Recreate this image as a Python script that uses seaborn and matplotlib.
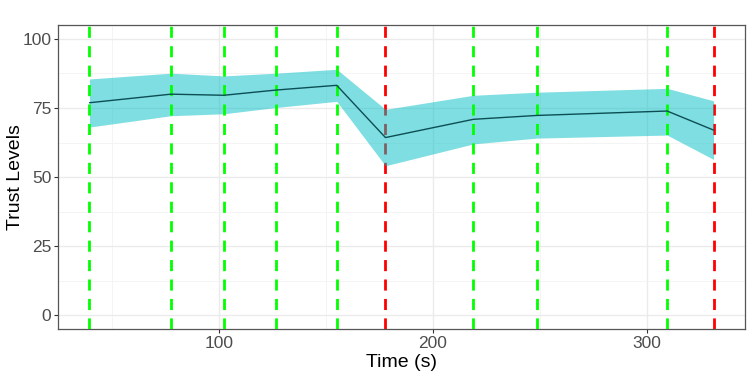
import matplotlib
matplotlib.use('Agg')
import matplotlib.pyplot as plt
from matplotlib.ticker import MultipleLocator
import pandas as pd
import seaborn as sns

# Dados
tempo = [39.5, 77.6, 102.3, 126.9, 155.1, 177.9, 219.0, 248.6, 309.6, 331.3]
media = [76.9, 80.0, 79.6, 81.5, 83.2, 64.3, 70.9, 72.3, 73.9, 67.0]
superior = [85.5, 87.6, 86.6, 87.6, 89.0, 74.5, 79.6, 80.7, 82.1, 77.6]
inferior = [68.1, 72.2, 72.9, 75.2, 77.4, 54.1, 62.0, 64.1, 65.2, 56.4]
eventos = ['ok', 'ok', 'ok', 'ok', 'ok', 'falha', 'ok', 'ok', 'ok', 'falha']

df = pd.DataFrame({'tempo': tempo, 'media': media,
                   'sup': superior, 'inf': inferior, 'evento': eventos})
cores = {'ok': '#00FF00', 'falha': '#FF0000'}

sns.set_theme(style='whitegrid')
plt.rcParams['font.family'] = ['Liberation Sans', 'DejaVu Sans']

fig, ax = plt.subplots(figsize=(7.47, 3.74), dpi=100)
fig.subplots_adjust(left=0.078, right=0.997, top=0.933, bottom=0.12)

# linhas verticais dos eventos
for t, ev in zip(df['tempo'], df['evento']):
    ax.axvline(t, color=cores[ev], linestyle=(0, (4, 3)), linewidth=2,
               zorder=1 if ev == 'falha' else 3)

ax.fill_between(df['tempo'], df['inf'], df['sup'], color='#00BFC4',
                alpha=0.5, linewidth=0, zorder=2)
sns.lineplot(data=df, x='tempo', y='media', color='#0b4f55', linewidth=1,
             ax=ax, zorder=4)

ax.set_xlim(24.9, 345.9)
ax.set_ylim(-5, 105)
ax.xaxis.set_major_locator(MultipleLocator(100))
ax.xaxis.set_minor_locator(MultipleLocator(50))
ax.yaxis.set_major_locator(MultipleLocator(25))
ax.yaxis.set_minor_locator(MultipleLocator(12.5))
ax.grid(which='major', color='#ebebeb', linewidth=1.0)
ax.grid(which='minor', color='#f3f3f3', linewidth=0.6)
ax.set_axisbelow(True)

for s in ax.spines.values():
    s.set_color('#555555')
    s.set_linewidth(0.9)

ax.tick_params(axis='both', which='major', labelsize=12.5, labelcolor='#4d4d4d',
               color='#333333', length=3, width=0.8, pad=2, bottom=True, left=True)
ax.tick_params(which='minor', length=0)
ax.set_xlabel('Time (s)', fontsize=14, color='black', labelpad=2)
ax.set_ylabel('Trust Levels', fontsize=14, color='black')
ax.yaxis.set_label_coords(-0.05, 0.5)

fig.savefig('out.png', dpi=100)
